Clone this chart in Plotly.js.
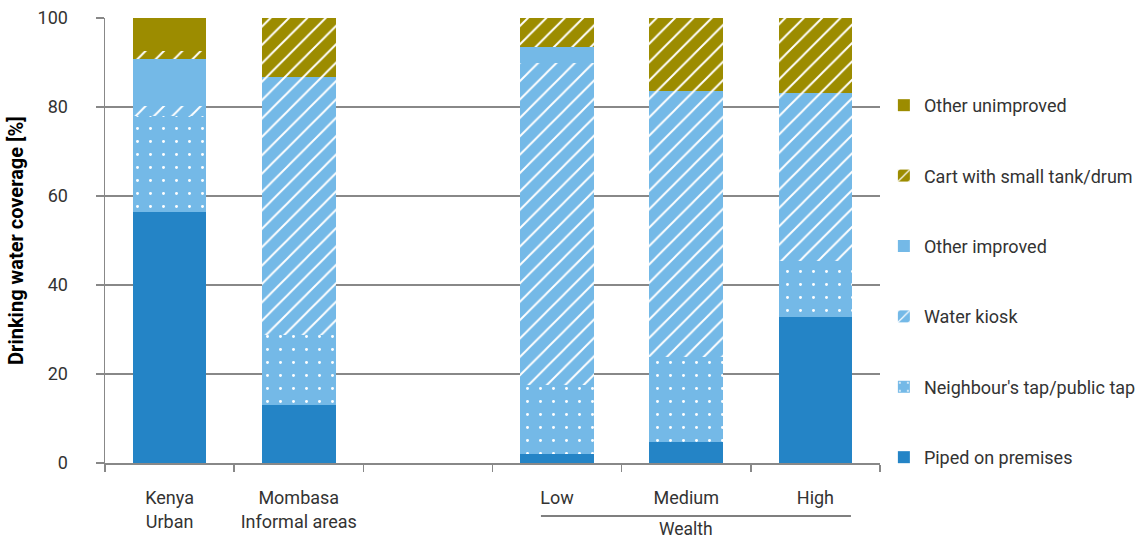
<!DOCTYPE html>
<html>
<head>
<meta charset="utf-8">
<script src="https://cdn.plot.ly/plotly-3.0.1.min.js"></script>
<style>html,body{margin:0;padding:0;background:#fff;}#chart{width:1145px;height:540px;}</style>
</head>
<body>
<div id="chart"></div>
<script>
const categories = ["Kenya<br>Urban", "Mombasa<br>Informal areas", " ", "Low", "Medium", "High"];
const piped          = [56.4, 13.0, null, 2.0, 4.8, 32.7];
const neighbourTap   = [21.6, 15.8, null, 15.5, 19.0, 12.7];
const waterKiosk     = [2.3, 58.0, null, 72.3, 59.8, 37.7];
const otherImproved  = [10.5, 0, null, 3.7, 0, 0];
const cart           = [1.8, 13.2, null, 6.5, 16.4, 16.9];
const otherUnimproved= [7.4, 0, null, 0, 0, 0];

const seriesNames = ["Piped on premises", "Neighbour's tap/public tap", "Water kiosk", "Other improved", "Cart with small tank/drum", "Other unimproved"];
const seriesValues = [piped, neighbourTap, waterKiosk, otherImproved, cart, otherUnimproved];
const seriesColors = ["#2484c6", "#74b9e7", "#74b9e7", "#74b9e7", "#9c8c00", "#9c8c00"];
const seriesPatterns = ["", ".", "/", "", "/", ""];

const traces = seriesNames.map((name, i) => {
  const p = seriesPatterns[i];
  let pattern = {shape: ""};
  if (p === ".") pattern = {shape: ".", fgcolor: "#ffffff", bgcolor: seriesColors[i], size: 13, solidity: 0.04, fillmode: "replace"};
  if (p === "/") pattern = {shape: "/", fgcolor: "#ffffff", bgcolor: seriesColors[i], size: 13, solidity: 0.15, fillmode: "replace"};
  return {
    type: "bar",
    name: name,
    x: categories,
    y: seriesValues[i],
    width: 0.57,
    legendgroup: "g" + i,
    legendrank: 100 - i,
    marker: {color: seriesColors[i], line: {width: 0}, pattern: pattern},
    hoverinfo: "name+y"
  };
});

const fontFam = "Roboto, 'Open Sans', sans-serif";
const layout = {
  width: 1145, height: 540,
  margin: {l: 105, r: 265, t: 18, b: 77, autoexpand: false},
  barmode: "stack",
  paper_bgcolor: "#ffffff",
  plot_bgcolor: "#ffffff",
  font: {family: fontFam, size: 18, color: "#333333"},
  showlegend: true,
  legend: {
    x: 1.005, xanchor: "left", y: 0.845, yanchor: "top",
    traceorder: "grouped",
    tracegroupgap: 44,
    font: {family: fontFam, size: 18, color: "#333333"},
    itemwidth: 30
  },
  xaxis: {
    type: "category",
    tickson: "boundaries",
    tickangle: 0,
    ticks: "outside", ticklen: 7, tickcolor: "#888888", tickwidth: 1.5,
    showline: true, linecolor: "#888888", linewidth: 1.5,
    showgrid: false,
    tickfont: {family: fontFam, size: 18, color: "#333333"},
    ticklabelstandoff: 18
  },
  yaxis: {
    range: [0, 100],
    tickvals: [0, 20, 40, 60, 80, 100],
    ticks: "outside", ticklen: 8, tickcolor: "#888888", tickwidth: 1.5,
    showline: true, linecolor: "#888888", linewidth: 1.5,
    showgrid: true, gridcolor: "#888888", gridwidth: 1.5,
    zeroline: false,
    tickfont: {family: fontFam, size: 18, color: "#333333"},
    ticklabelstandoff: 24,
    title: {text: "Drinking water coverage [%]", font: {family: fontFam, size: 20, color: "#000000", weight: "bold"}, standoff: 8}
  },
  shapes: [{
    type: "line", xref: "x", yref: "paper",
    x0: 2.875, x1: 5.275, y0: -0.119, y1: -0.119,
    line: {color: "#555555", width: 1.5}
  }],
  annotations: [{
    text: "Wealth", xref: "x", yref: "paper", x: 4, y: -0.148,
    yanchor: "middle", showarrow: false,
    font: {family: fontFam, size: 17.5, color: "#333333"}
  }]
};

Plotly.newPlot("chart", traces, layout, {displayModeBar: false, staticPlot: true});
</script>
</body>
</html>
